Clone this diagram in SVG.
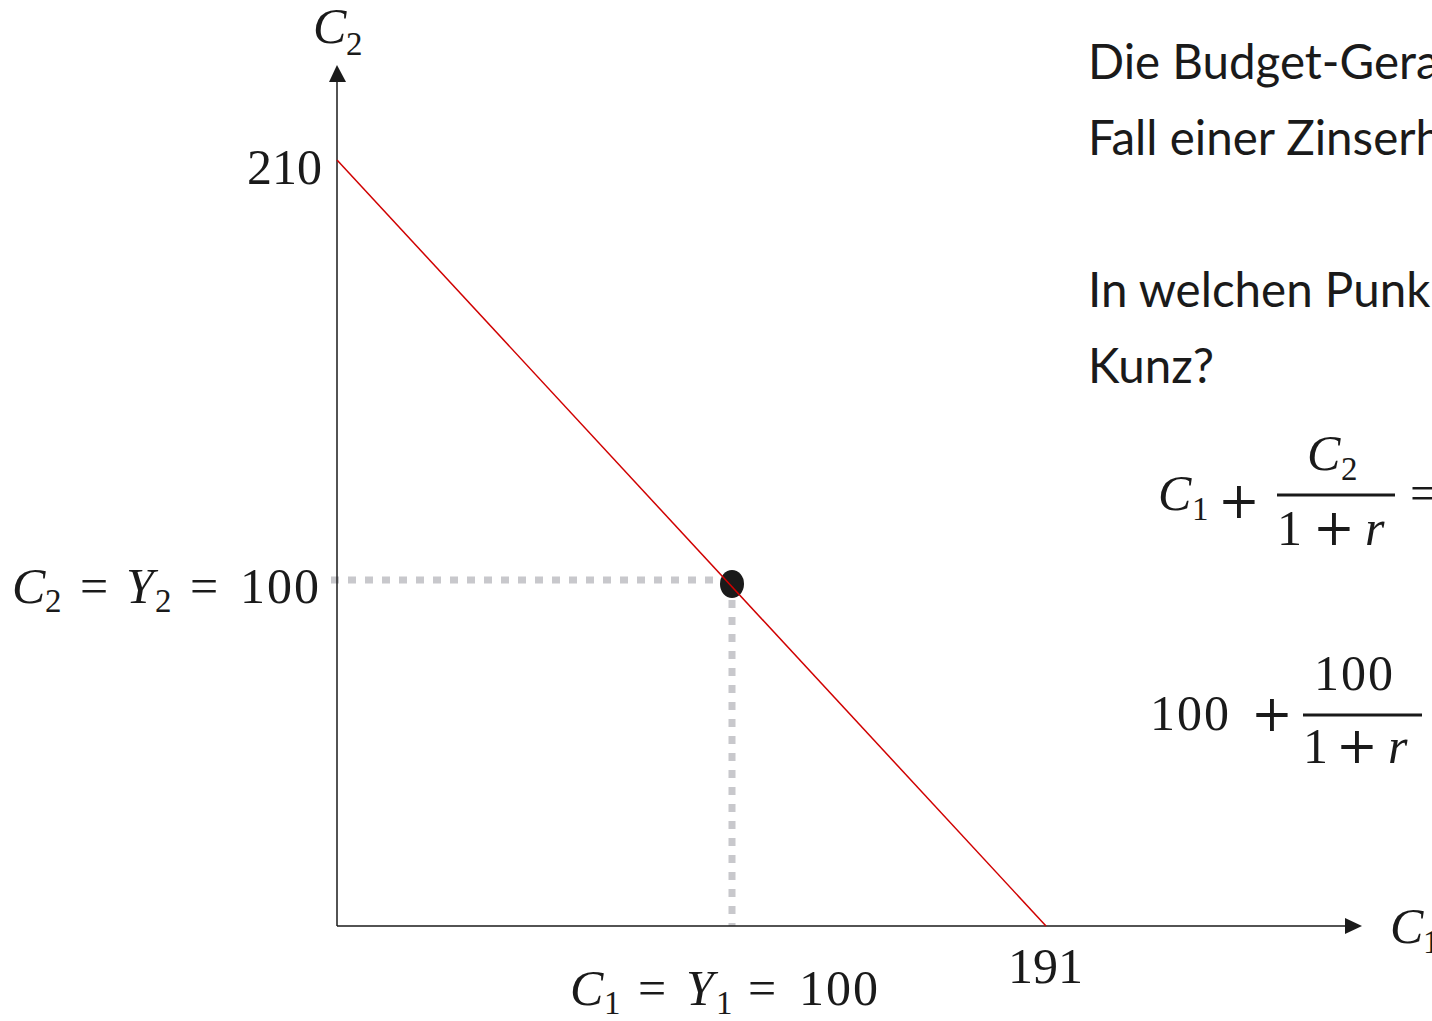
<svg xmlns="http://www.w3.org/2000/svg" width="1432" height="1021" viewBox="0 0 1432 1021">
<style>
.m{font-family:"Liberation Serif","Times New Roman",serif;font-size:50px;fill:#1a1a1a}
.i{font-style:italic}
.s{font-size:33px}
.d{letter-spacing:2px}
.p{font-family:"DejaVu Serif",serif;font-size:50px;fill:#1a1a1a}
.t{font-family:Lato,"Liberation Sans",sans-serif;font-size:47.5px;fill:#1a1a1a}
.ax{stroke:#1a1a1a;stroke-width:1.5;fill:none}
.dash{stroke:#c8c8cc;stroke-width:7;stroke-dasharray:8 9;fill:none}
.bar{stroke:#1a1a1a;stroke-width:3}
</style>
<rect width="1432" height="1021" fill="#fff"/>
<g id="point"><ellipse cx="732" cy="584" rx="12" ry="14" fill="#1a1a1a"/></g>
<g id="connectors">
<path class="dash" d="M331,580 H720"/>
<path class="dash" d="M732,600 V926"/>
<path class="ax" d="M337,926 V72"/>
<polygon points="337,65 329,82 346,82" fill="#1a1a1a"/>
<path class="ax" d="M337,926 H1350"/>
<polygon points="1362,926 1345,918 1345,934" fill="#1a1a1a"/>
<path d="M337,160 L1046,926" stroke="#d00000" stroke-width="1.5" fill="none"/>
</g>
<g id="label-c2axis"><text class="m" x="313" y="43"><tspan class="i">C</tspan><tspan class="s" x="346" y="55">2</tspan></text></g>
<g id="label-c1axis"><text class="m" x="1390" y="943"><tspan class="i">C</tspan><tspan class="s" x="1423" y="953">1</tspan></text></g>
<g id="label-210"><text class="m" x="247" y="184">210</text></g>
<g id="label-191"><text class="m" x="1008" y="983">191</text></g>
<g id="label-y2"><text class="m" y="603"><tspan class="i" x="12">C</tspan><tspan class="s" x="45" y="612">2</tspan><tspan x="80" y="603">=</tspan><tspan class="i" x="126">Y</tspan><tspan class="s" x="155" y="612">2</tspan><tspan x="190" y="603">=</tspan><tspan class="d" x="240">100</tspan></text></g>
<g id="label-y1"><text class="m" y="1005"><tspan class="i" x="570">C</tspan><tspan class="s" x="604" y="1014">1</tspan><tspan x="638" y="1005">=</tspan><tspan class="i" x="686">Y</tspan><tspan class="s" x="716" y="1014">1</tspan><tspan x="748" y="1005">=</tspan><tspan class="d" x="799">100</tspan></text></g>
<g id="question">
<text class="t" x="1088" y="79">Die Budget-Gera</text>
<text class="t" x="1088" y="155">Fall einer Zinserh</text>
<text class="t" x="1088" y="307">In welchen Punk</text>
<text class="t" x="1088" y="383">Kunz?</text>
</g>
<g id="equation1">
<text class="m" y="510"><tspan class="i" x="1158">C</tspan><tspan class="s" x="1192" y="520">1</tspan></text>
<text class="p" x="1218" y="518">+</text>
<line class="bar" x1="1277" y1="495" x2="1395" y2="495"/>
<text class="m" y="470"><tspan class="i" x="1307">C</tspan><tspan class="s" x="1341" y="480">2</tspan></text>
<text class="m" x="1277" y="545">1</text>
<text class="p" x="1313" y="545">+</text>
<text class="m i" x="1365" y="545">r</text>
<text class="m" x="1410" y="510">=</text>
</g>
<g id="equation2">
<text class="m d" x="1150" y="730">100</text>
<text class="p" x="1251" y="731">+</text>
<line class="bar" x1="1303" y1="715" x2="1422" y2="715"/>
<text class="m d" x="1314" y="690">100</text>
<text class="m" x="1303" y="763">1</text>
<text class="p" x="1336" y="763">+</text>
<text class="m i" x="1388" y="763">r</text>
</g>
</svg>
